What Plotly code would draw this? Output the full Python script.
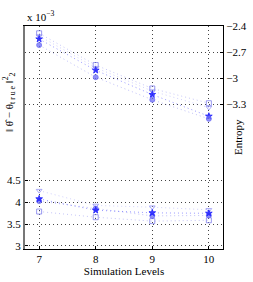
import plotly.graph_objects as go

levels = [7, 8, 9, 10]

# Entropy (right axis)
ent_square = [-2.484, -2.85, -3.12, -3.29]
ent_tri = [-2.515, -2.88, -3.15, -3.34]
ent_star = [-2.55, -2.91, -3.19, -3.44]
ent_circle = [-2.62, -2.99, -3.25, -3.47]

# Error x1e-3 (left axis)
err_tri = [4.27, 3.93, 3.89, 3.83]
err_star = [4.08, 3.82, 3.76, 3.75]
err_circle = [4.03, 3.86, 3.69, 3.70]
err_square = [3.79, 3.66, 3.57, 3.59]

left_ticks = [3, 3.5, 4, 4.5]
left_ticktext = ["3", "3.5", "4", "4.5"]
right_ticks = [-2.4, -2.7, -3, -3.3]
right_ticktext = ["\u22122.4", "\u22122.7", "\u22123", "\u22123.3"]

styles = {
    "square": dict(symbol="square-open", color="rgba(120,120,235,0.75)", line="rgba(150,150,240,0.55)"),
    "tri": dict(symbol="triangle-down-open", color="rgba(150,150,245,0.8)", line="rgba(170,170,250,0.55)"),
    "star": dict(symbol="star", color="rgba(40,40,255,0.9)", line="rgba(70,70,255,0.55)"),
    "circle": dict(symbol="circle", color="rgba(110,110,245,0.75)", line="rgba(140,140,240,0.55)"),
}

fig = go.Figure()

def add(vals, key, axis):
    s = styles[key]
    fig.add_trace(go.Scatter(
        x=levels, y=vals, mode="lines+markers", yaxis=axis,
        line=dict(color=s["line"], width=1, dash="1px,3px"),
        marker=dict(symbol=s["symbol"], size=5, color=s["color"],
                    line=dict(color=s["color"], width=1)),
        showlegend=False, hoverinfo="skip"))

add(ent_square, "square", "y2")
add(ent_tri, "tri", "y2")
add(ent_star, "star", "y2")
add(ent_circle, "circle", "y2")
add(err_square, "square", "y")
add(err_tri, "tri", "y")
add(err_circle, "circle", "y")
add(err_star, "star", "y")

serif = "Liberation Serif"
font = dict(family=serif, size=11, color="#000")
grid = dict(showgrid=True, gridcolor="#444", griddash="1px,3px", gridwidth=1)

L, R, T, B = 25, 30, 26, 33
W, H = 253, 282
pw = W - L - R
ph = H - T - B

fig.update_layout(
    template="none",
    width=W, height=H,
    margin=dict(l=L, r=R, t=T, b=B, autoexpand=False),
    paper_bgcolor="white", plot_bgcolor="white",
    font=font,
    xaxis=dict(range=[6.75, 10.25], tickvals=levels, ticktext=[str(v) for v in levels],
               showline=True, linecolor="#000", linewidth=1, mirror=True,
               ticks="inside", ticklen=3, tickcolor="#000", automargin=False,
               zeroline=False, tickfont=font,
               title=dict(text="Simulation Levels", font=font, standoff=3), **grid),
    yaxis=dict(range=[2.93, 8.05], tickvals=left_ticks, ticktext=left_ticktext,
               showline=True, linecolor="#777", linewidth=2, automargin=False,
               ticks="inside", ticklen=3, tickcolor="#000",
               zeroline=False, tickfont=font, **grid),
    yaxis2=dict(range=[-4.97, -2.4], tickvals=right_ticks, ticktext=right_ticktext,
                overlaying="y", side="right", automargin=False,
                showline=True, linecolor="#000", linewidth=1,
                ticks="inside", ticklen=3, tickcolor="#000",
                zeroline=False, tickfont=font, **grid),
    annotations=[
        dict(text="x 10<sup>\u22123</sup>", x=0, xref="paper", y=1, yref="paper",
             xanchor="left", yanchor="bottom", yshift=1, showarrow=False, font=font),
        dict(text="Entropy", x=(238 - L) / pw, xref="paper", y=(H - B - 137) / ph, yref="paper",
             showarrow=False, textangle=-90, font=font, xanchor="center", yanchor="middle"),
        dict(text="\u2016 \u03b8\u0302 \u2212 \u03b8<sub>t r u e</sub> \u2016<sup>2</sup><sub>2</sub>",
             x=(9 - L) / pw, xref="paper", y=(H - B - 102) / ph, yref="paper", showarrow=False,
             textangle=-90, font=dict(family=serif, size=11, color="#000"),
             xanchor="center", yanchor="middle"),
    ],
)

fig.write_html("out.html", config={"displayModeBar": False},
               post_script="document.body.style.margin='0';document.body.style.overflow='hidden';")
